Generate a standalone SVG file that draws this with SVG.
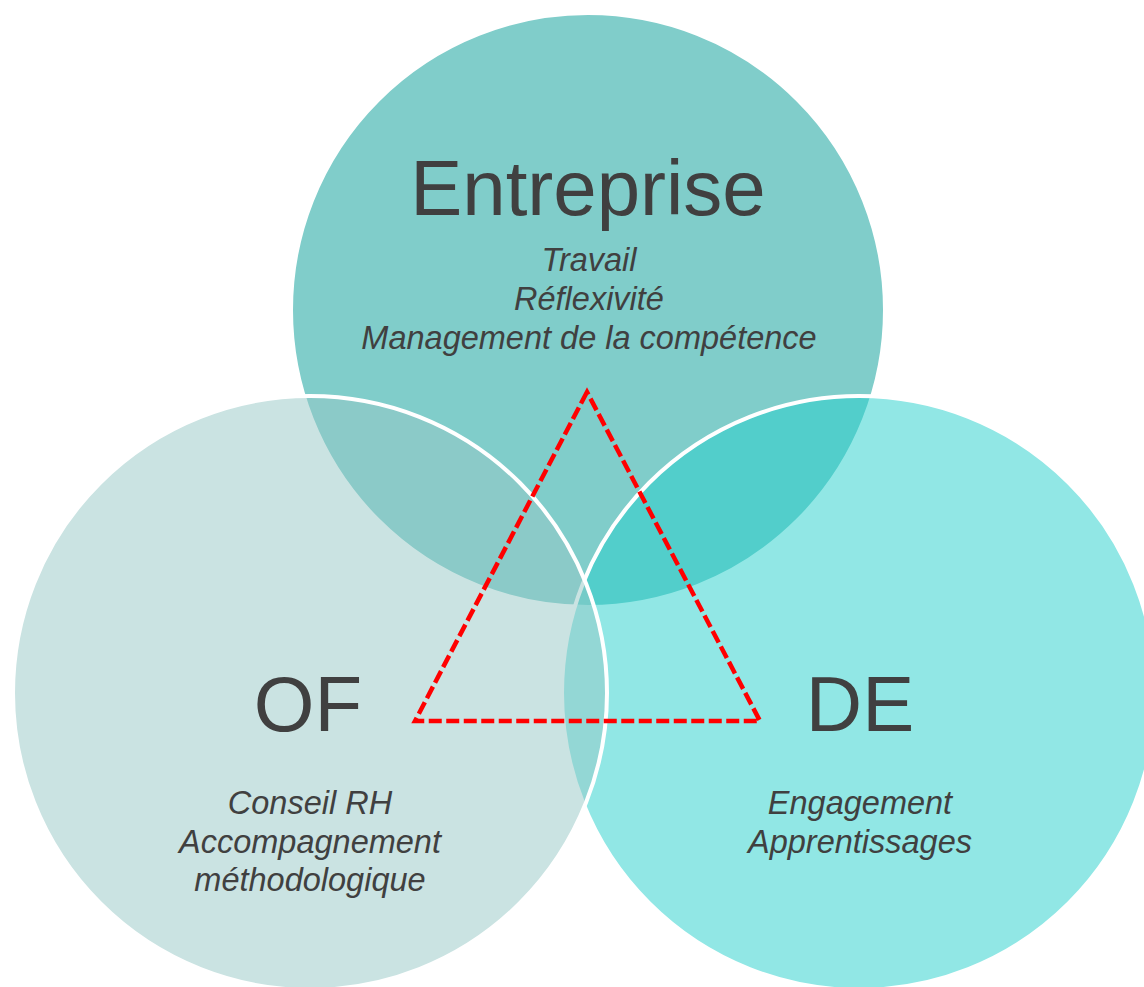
<svg xmlns="http://www.w3.org/2000/svg" width="1144" height="987" viewBox="0 0 1144 987">
<style>
.circ{stroke:#ffffff;stroke-width:4}
.title{font-family:"Liberation Sans",Arial,sans-serif;font-size:78px;fill:#404040;text-anchor:middle}
.sub{font-family:"Liberation Sans",Arial,sans-serif;font-size:32.5px;font-style:italic;fill:#404040;text-anchor:middle}
.tri{fill:none;stroke:#ff0000;stroke-width:4.5;stroke-dasharray:13 4.5}
</style>
<rect width="1144" height="987" fill="#ffffff"/>
<g id="entreprise">
<circle class="circ" cx="588" cy="310" r="297" fill="#80CDCA"/>
</g>
<g id="de">
<circle class="circ" cx="859" cy="693" r="297" fill="rgb(36,208,204)" fill-opacity="0.5"/>
</g>
<g id="of">
<circle class="circ" cx="310" cy="693" r="297" fill="rgb(150,199,197)" fill-opacity="0.5"/>
</g>
<g id="connectors">
<polygon class="tri" points="587,392 415,721 760,721"/>
</g>
<g id="labels-entreprise">
<text class="title" x="588" y="215">Entreprise</text>
<text class="sub" x="589" y="271">Travail</text>
<text class="sub" x="589" y="310">Réflexivité</text>
<text class="sub" x="589" y="349">Management de la compétence</text>
</g>
<g id="labels-of">
<text class="title" x="308" y="731">OF</text>
<text class="sub" x="310" y="814">Conseil RH</text>
<text class="sub" x="310" y="853">Accompagnement</text>
<text class="sub" x="310" y="891">méthodologique</text>
</g>
<g id="labels-de">
<text class="title" x="860" y="731">DE</text>
<text class="sub" x="860" y="814">Engagement</text>
<text class="sub" x="860" y="853">Apprentissages</text>
</g>
</svg>
